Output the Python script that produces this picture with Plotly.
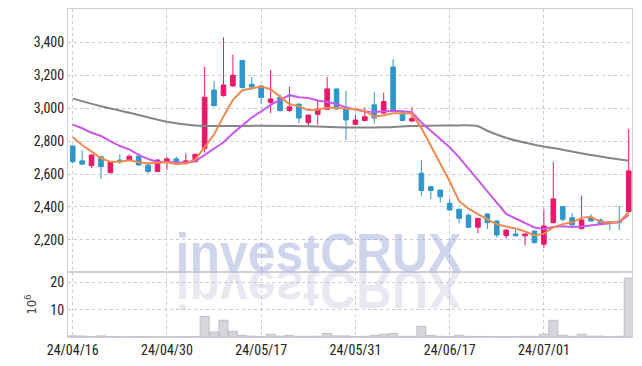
import plotly.graph_objects as go
from plotly.subplots import make_subplots

# ---------------- data ----------------
dates = [
    "24/04/16", "24/04/17", "24/04/18", "24/04/19", "24/04/22", "24/04/23", "24/04/24", "24/04/25",
    "24/04/26", "24/04/29", "24/04/30", "24/05/02", "24/05/03", "24/05/07", "24/05/08", "24/05/09",
    "24/05/10", "24/05/13", "24/05/14", "24/05/16", "24/05/17", "24/05/20", "24/05/21", "24/05/22",
    "24/05/23", "24/05/24", "24/05/27", "24/05/28", "24/05/29", "24/05/30", "24/05/31", "24/06/03",
    "24/06/04", "24/06/05", "24/06/07", "24/06/10", "24/06/11", "24/06/12", "24/06/13", "24/06/14",
    "24/06/17", "24/06/18", "24/06/19", "24/06/20", "24/06/21", "24/06/24", "24/06/25", "24/06/26",
    "24/06/27", "24/06/28", "24/07/01", "24/07/02", "24/07/03", "24/07/04", "24/07/05", "24/07/08",
    "24/07/09", "24/07/10", "24/07/11", "24/07/12",
]
opens = [2770, 2680, 2651, 2705, 2608, 2685, 2685, 2708, 2655, 2615,
         2672, 2692, 2663, 2675, 2756, 3110, 3076, 3135, 3290, 3145,
         3135, 3035, 3065, 2986, 3025, 2912, 2963, 2993, 3117, 3003,
         2902, 2925, 3020, 2970, 3250, 2970, 2922, 2605, 2523, 2503,
         2422, 2386, 2350, 2277, 2357, 2315, 2226, 2236, 2225, 2254,
         2174, 2305, 2402, 2335, 2268, 2335, 2321, 2311, 2315, 2372]
highs = [2775, 2745, 2716, 2710, 2675, 2720, 2720, 2725, 2660, 2690,
         2705, 2705, 2725, 2722, 3250, 3165, 3430, 3325, 3290, 3188,
         3140, 3232, 3085, 3130, 3028, 2960, 3050, 3190, 3120, 3106,
         2960, 3005, 3100, 3094, 3297, 2975, 3005, 2685, 2528, 2505,
         2449, 2390, 2360, 2335, 2362, 2320, 2265, 2270, 2238, 2256,
         2386, 2675, 2405, 2362, 2469, 2356, 2330, 2313, 2406, 2872]
lows = [2665, 2655, 2635, 2570, 2605, 2660, 2683, 2650, 2605, 2612,
        2625, 2655, 2660, 2673, 2730, 3010, 3070, 3130, 3120, 3110,
        3025, 2970, 2980, 2975, 2908, 2890, 2900, 2990, 2990, 2807,
        2900, 2920, 2905, 2965, 2985, 2920, 2915, 2467, 2447, 2426,
        2378, 2300, 2272, 2240, 2265, 2215, 2210, 2222, 2165, 2180,
        2150, 2300, 2312, 2288, 2265, 2312, 2297, 2260, 2260, 2370]
closes = [2675, 2660, 2716, 2645, 2673, 2680, 2708, 2655, 2615, 2685,
          2692, 2660, 2680, 2720, 3066, 3015, 3141, 3200, 3125, 3128,
          3065, 3056, 2985, 3008, 2940, 2958, 2995, 3117, 2995, 2928,
          2928, 2948, 2940, 3040, 2990, 2925, 2938, 2500, 2500, 2462,
          2382, 2331, 2277, 2331, 2305, 2230, 2260, 2225, 2236, 2183,
          2285, 2449, 2325, 2291, 2321, 2315, 2300, 2303, 2305, 2619]
volume_m = [0.4, 0.35, 0.15, 0.4, 0.15, 0.1, 0.1, 0.15, 0.1, 0.1,
            0.1, 0.1, 0.1, 0.15, 7.5, 1.8, 6.1, 2.1, 0.6, 0.3,
            0.15, 1.0, 0.3, 0.6, 0.25, 0.25, 0.3, 1.3, 0.4, 0.4,
            0.15, 0.25, 0.6, 1.0, 1.3, 0.25, 0.25, 3.9, 0.6, 0.25,
            0.15, 0.6, 0.25, 0.2, 0.2, 0.15, 0.15, 0.15, 0.25, 0.25,
            1.0, 6.1, 0.6, 0.25, 1.0, 0.3, 0.3, 0.1, 0.25, 21.5]
ma5 = [2825, 2776, 2736, 2696, 2674, 2675, 2684, 2672, 2666, 2669,
       2671, 2661, 2666, 2687, 2764, 2840, 2950, 3050, 3109, 3122,
       3132, 3115, 3072, 3025, 3011, 2989, 2990, 3004, 3001, 2999,
       2993, 2983, 2948, 2957, 2969, 2969, 2967, 2879, 2771, 2665,
       2556, 2435, 2390, 2357, 2325, 2295, 2281, 2270, 2251, 2227,
       2238, 2276, 2296, 2307, 2334, 2340, 2310, 2306, 2309, 2368]
ma10 = [2900, 2878, 2851, 2831, 2800, 2770, 2750, 2716, 2691, 2675,
        2673, 2673, 2669, 2677, 2716, 2750, 2793, 2847, 2898, 2943,
        2980, 3020, 3050, 3079, 3066, 3061, 3046, 3038, 3025, 3005,
        2991, 2980, 2976, 2979, 2984, 2981, 2975, 2913, 2864, 2817,
        2763, 2701, 2635, 2564, 2495, 2426, 2358, 2330, 2304, 2276,
        2266, 2278, 2283, 2279, 2281, 2289, 2293, 2301, 2308, 2351]
ma_long_dates = ["24/04/16", "24/04/19", "24/04/24", "24/04/30", "24/05/07", "24/05/10", "24/05/17",
                 "24/05/24", "24/05/31", "24/06/05", "24/06/11", "24/06/17", "24/06/20", "24/06/21",
                 "24/06/25", "24/06/28", "24/07/03", "24/07/08", "24/07/12"]
ma_long = [3058, 3012, 2972, 2918, 2895, 2892, 2893,
           2890, 2882, 2884, 2892, 2895, 2890, 2863,
           2820, 2778, 2748, 2715, 2681]
price_ticks = [2200, 2400, 2600, 2800, 3000, 3200, 3400]
volume_ticks = [10, 20]
x_tick_labels = ["24/04/16", "24/04/30", "24/05/17", "24/05/31", "24/06/17", "24/07/01"]
watermark = "investCRUX"

# ---------------- styles ----------------
RED = "#e8196b"
BLUE = "#2f96c9"
GRID = "#c9c9dc"
AXLINE = "#cfcfdc"
TICKFONT = dict(family="Liberation Sans Narrow, Roboto Condensed, DejaVu Sans Condensed, sans-serif",
                size=14, color="#222222")
WMFONT = "Liberation Sans, Arial, sans-serif"

fig = make_subplots(rows=2, cols=1, shared_xaxes=True, vertical_spacing=0,
                    row_heights=[0.802, 0.198])

fig.add_trace(go.Candlestick(
    x=dates, open=opens, high=highs, low=lows, close=closes,
    increasing=dict(line=dict(color=RED, width=1), fillcolor=RED),
    decreasing=dict(line=dict(color=BLUE, width=1), fillcolor=BLUE),
    whiskerwidth=0, showlegend=False, hoverinfo="skip"), row=1, col=1)

fig.add_trace(go.Scatter(x=ma_long_dates, y=ma_long, mode="lines", line=dict(color="#858585", width=2, shape="spline"),
                         showlegend=False, hoverinfo="skip"), row=1, col=1)
fig.add_trace(go.Scatter(x=dates, y=ma10, mode="lines", line=dict(color="#c95ae8", width=2),
                         showlegend=False, hoverinfo="skip"), row=1, col=1)
fig.add_trace(go.Scatter(x=dates, y=ma5, mode="lines", line=dict(color="#f08a50", width=2),
                         showlegend=False, hoverinfo="skip"), row=1, col=1)

fig.add_trace(go.Bar(x=dates, y=volume_m, marker=dict(color="#d6d6dc", line=dict(color="#bfbfc8", width=1)),
                     showlegend=False, hoverinfo="skip"), row=2, col=1)

xcommon = dict(type="category", range=[-0.5, 59.35], tickvals=x_tick_labels, ticktext=x_tick_labels,
               showgrid=True, gridcolor=GRID, griddash="dot", gridwidth=1, automargin=False,
               showline=True, mirror=True, linecolor=AXLINE, linewidth=1, ticks="", zeroline=False)
fig.update_xaxes(**xcommon)
fig.update_xaxes(showticklabels=False, rangeslider_visible=False, row=1, col=1)
fig.update_xaxes(showticklabels=True, tickfont=TICKFONT, row=2, col=1)

fig.update_yaxes(range=[2005, 3602], tickvals=price_ticks, tickformat=",", tickfont=TICKFONT,
                 showgrid=True, gridcolor=GRID, griddash="dot", zeroline=False, automargin=False,
                 showline=True, mirror=True, linecolor=AXLINE, ticks="", row=1, col=1)
fig.update_yaxes(range=[0, 23.7], tickvals=volume_ticks, tickfont=TICKFONT,
                 showgrid=True, gridcolor=GRID, griddash="dot", zeroline=False, automargin=False,
                 showline=True, mirror=True, linecolor=AXLINE, ticks="",
                 title=dict(text="10<sup>6</sup>", font=dict(family="Liberation Sans Narrow, DejaVu Sans Condensed, sans-serif",
                                                            size=13, color="#444444"), standoff=10),
                 row=2, col=1)

boundary = 0.198
fig.add_annotation(text="<b>" + watermark + "</b>", xref="paper", yref="paper", x=0.445, y=boundary,
                   xanchor="center", yanchor="bottom", yshift=-12, showarrow=False,
                   font=dict(family=WMFONT, size=54, color="rgba(140,158,208,0.42)"))
fig.add_annotation(text="<b>" + watermark + "</b>", xref="paper", yref="paper", x=0.445, y=boundary,
                   xanchor="center", yanchor="bottom", yshift=-50, showarrow=False,
                   font=dict(family=WMFONT, size=54, color="rgba(175,175,205,0.28)"))

fig.update_layout(width=642, height=366, margin=dict(l=68, r=10, t=9, b=29, autoexpand=False),
                  paper_bgcolor="white", plot_bgcolor="white", bargap=0.05, showlegend=False)

page_js = """
document.body.style.margin = '0';
document.body.style.padding = '0';
var gd = document.getElementById('{plot_id}');
function squeezeWatermark(){
  var ts = gd.querySelectorAll('.annotation-text');
  if (ts.length < 2) return;
  var sx = 0.925;
  for (var i = 0; i < 2; i++) {
    var t = ts[i];
    if (t.getAttribute('data-done')) continue;
    var bb = t.getBBox();
    var cx = bb.x + bb.width / 2;
    var cy = bb.y + bb.height / 2;
    var sy = (i === 1) ? -1 : 1;
    var ty = (i === 1) ? 2 * cy : 0;
    t.setAttribute('transform', 'translate(' + (cx * (1 - sx)) + ',' + ty + ') scale(' + sx + ',' + sy + ')');
    t.setAttribute('data-done', '1');
  }
}
squeezeWatermark();
"""
fig.write_html("out.html", post_script=page_js, config={"displayModeBar": False})
